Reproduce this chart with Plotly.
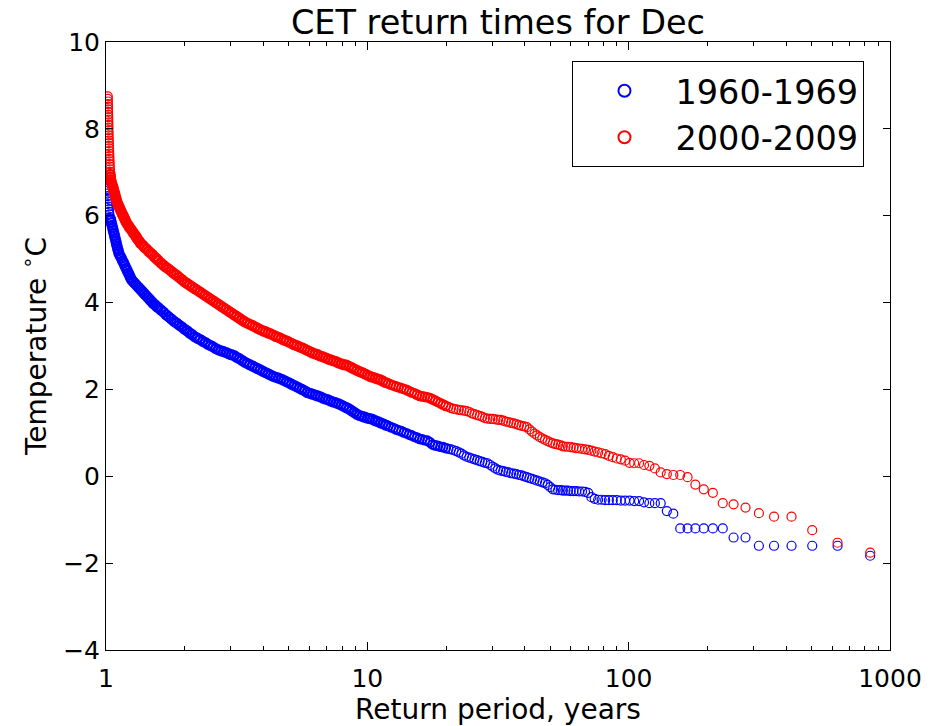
import plotly.graph_objects as go

# ---------------- data ----------------
# steep part close to a return period of 1 year
rp_steep_1960 = [1.012, 1.013, 1.014, 1.015, 1.016, 1.018, 1.020, 1.022, 1.025, 1.028, 1.031, 1.035, 1.038, 1.042,
                 1.048, 1.054, 1.060, 1.066, 1.072, 1.078, 1.084, 1.090, 1.096, 1.102, 1.108, 1.115, 1.121,
                 1.133, 1.145, 1.157, 1.169, 1.181, 1.193, 1.205, 1.217, 1.229, 1.241, 1.254,
                 1.274, 1.295, 1.315, 1.336, 1.358, 1.380, 1.402, 1.424, 1.447, 1.470, 1.494, 1.517,
                 1.540, 1.563]
temp_steep_1960 = [6.62, 6.57, 6.51, 6.45, 6.39, 6.33, 6.27, 6.21, 6.15, 6.09, 6.03, 5.97, 5.93, 5.90,
                   5.84, 5.78, 5.72, 5.66, 5.60, 5.54, 5.48, 5.42, 5.36, 5.30, 5.24, 5.19, 5.13,
                   5.07, 5.02, 4.96, 4.91, 4.85, 4.79, 4.74, 4.68, 4.63, 4.57, 4.52,
                   4.475, 4.43, 4.385, 4.34, 4.295, 4.25, 4.205, 4.16, 4.115, 4.07, 4.025, 3.98,
                   3.95, 3.91]

rp_steep_2000 = [1.016, 1.016, 1.017, 1.017, 1.018, 1.018, 1.019, 1.019, 1.020, 1.020,
                 1.021, 1.021, 1.022, 1.022, 1.023, 1.023, 1.024, 1.025, 1.025, 1.026,
                 1.027, 1.028, 1.029, 1.030, 1.031, 1.032, 1.033, 1.034, 1.035, 1.036,
                 1.038, 1.040, 1.042,
                 1.048, 1.054, 1.061, 1.067, 1.073, 1.080, 1.086, 1.092, 1.099, 1.105,
                 1.115, 1.125, 1.136, 1.146, 1.157, 1.168, 1.178, 1.189, 1.200,
                 1.215, 1.230, 1.246, 1.261, 1.277, 1.293, 1.309, 1.325, 1.341, 1.358,
                 1.382, 1.406, 1.431, 1.455, 1.481, 1.507, 1.533, 1.560]
temp_steep_2000 = [8.75, 8.69, 8.63, 8.57, 8.51, 8.45, 8.39, 8.33, 8.27, 8.21,
                   8.15, 8.09, 8.03, 7.97, 7.91, 7.85, 7.79, 7.73, 7.67, 7.61,
                   7.55, 7.49, 7.43, 7.37, 7.31, 7.25, 7.19, 7.13, 7.07, 7.01,
                   6.95, 6.89, 6.83,
                   6.78, 6.72, 6.67, 6.62, 6.56, 6.51, 6.45, 6.40, 6.34, 6.29,
                   6.24, 6.19, 6.13, 6.08, 6.03, 5.98, 5.93, 5.88, 5.83,
                   5.78, 5.73, 5.69, 5.64, 5.59, 5.55, 5.50, 5.45, 5.41, 5.36,
                   5.32, 5.27, 5.23, 5.18, 5.14, 5.10, 5.05, 5.01]

# dense middle part (return periods shared by both decades)
rp_mid = [1.585, 1.622, 1.660, 1.698, 1.738, 1.778, 1.820, 1.862, 1.905, 1.950,
          1.995, 2.042, 2.089, 2.138, 2.188, 2.239, 2.291, 2.344, 2.399, 2.455,
          2.512, 2.570, 2.630, 2.692, 2.754, 2.818, 2.884, 2.951, 3.020, 3.090,
          3.162, 3.236, 3.311, 3.388, 3.467, 3.548, 3.631, 3.715, 3.802, 3.890,
          3.981, 4.074, 4.169, 4.266, 4.365, 4.467, 4.571, 4.677, 4.786, 4.898,
          5.012, 5.129, 5.248, 5.370, 5.495, 5.623, 5.754, 5.888, 6.026, 6.166,
          6.310, 6.457, 6.607, 6.761, 6.918, 7.079, 7.244, 7.413, 7.586, 7.762,
          7.943, 8.128, 8.318, 8.511, 8.710, 8.913, 9.120, 9.333, 9.550, 9.772,
          10.00, 10.23, 10.47, 10.72, 10.96, 11.22, 11.48, 11.75, 12.02, 12.30,
          12.59, 12.88, 13.18, 13.49, 13.80, 14.13, 14.45, 14.79, 15.14, 15.49,
          15.85, 16.22, 16.60, 16.98, 17.38, 17.78, 18.20, 18.62, 19.05, 19.50,
          19.95, 20.42, 20.89, 21.38, 21.88, 22.39, 22.91, 23.44, 23.99, 24.55,
          25.12, 25.70, 26.30, 26.92, 27.54, 28.18, 28.84, 29.51, 30.20, 30.90,
          31.62, 32.36, 33.11, 33.88, 34.67, 35.48, 36.31, 37.15, 38.02, 38.90,
          39.81, 40.74, 41.69, 42.66, 43.65, 44.67, 45.71, 46.77, 47.86, 48.98,
          50.12, 51.29, 52.48, 53.70, 54.95]
temp_mid_1960 = [3.88, 3.83, 3.78, 3.72, 3.67, 3.62, 3.57, 3.53, 3.48, 3.44,
                 3.39, 3.35, 3.30, 3.26, 3.21, 3.18, 3.15, 3.11, 3.08, 3.04,
                 3.01, 2.98, 2.94, 2.91, 2.89, 2.87, 2.85, 2.82, 2.80, 2.78,
                 2.74, 2.71, 2.67, 2.63, 2.60, 2.57, 2.54, 2.51, 2.48, 2.45,
                 2.42, 2.39, 2.36, 2.33, 2.30, 2.28, 2.26, 2.24, 2.21, 2.18,
                 2.15, 2.12, 2.09, 2.06, 2.03, 2.00, 1.97, 1.93, 1.91, 1.89,
                 1.87, 1.85, 1.83, 1.80, 1.78, 1.76, 1.73, 1.71, 1.69, 1.67,
                 1.64, 1.61, 1.58, 1.55, 1.51, 1.47, 1.43, 1.40, 1.38, 1.36,
                 1.34, 1.33, 1.31, 1.28, 1.26, 1.23, 1.21, 1.18, 1.16, 1.13,
                 1.11, 1.08, 1.06, 1.04, 1.01, 0.99, 0.96, 0.94, 0.91, 0.89,
                 0.86, 0.85, 0.83, 0.82, 0.78, 0.73, 0.71, 0.70, 0.68, 0.67,
                 0.65, 0.63, 0.62, 0.60, 0.58, 0.55, 0.52, 0.48, 0.45, 0.43,
                 0.41, 0.39, 0.37, 0.35, 0.33, 0.31, 0.30, 0.26, 0.22, 0.18,
                 0.15, 0.13, 0.12, 0.10, 0.09, 0.07, 0.06, 0.05, 0.03, 0.02,
                 0.00, -0.02, -0.04, -0.06, -0.08, -0.10, -0.12, -0.14, -0.16, -0.20,
                 -0.25, -0.30, -0.31, -0.32, -0.32]
temp_mid_2000 = [4.97, 4.91, 4.86, 4.81, 4.77, 4.72, 4.67, 4.63, 4.58, 4.53,
                 4.48, 4.44, 4.40, 4.36, 4.32, 4.28, 4.24, 4.20, 4.16, 4.12,
                 4.08, 4.04, 4.00, 3.96, 3.92, 3.88, 3.84, 3.80, 3.76, 3.72,
                 3.68, 3.64, 3.60, 3.56, 3.53, 3.50, 3.47, 3.44, 3.41, 3.38,
                 3.35, 3.33, 3.30, 3.28, 3.25, 3.22, 3.20, 3.17, 3.14, 3.12,
                 3.09, 3.06, 3.03, 3.01, 2.98, 2.96, 2.93, 2.90, 2.87, 2.84,
                 2.82, 2.80, 2.77, 2.75, 2.73, 2.70, 2.68, 2.66, 2.64, 2.61,
                 2.59, 2.57, 2.56, 2.53, 2.50, 2.47, 2.44, 2.41, 2.39, 2.36,
                 2.33, 2.30, 2.28, 2.26, 2.24, 2.22, 2.19, 2.16, 2.14, 2.11,
                 2.09, 2.07, 2.05, 2.03, 2.01, 1.99, 1.96, 1.93, 1.91, 1.88,
                 1.85, 1.84, 1.83, 1.82, 1.80, 1.77, 1.74, 1.71, 1.68, 1.65,
                 1.62, 1.60, 1.57, 1.55, 1.54, 1.53, 1.52, 1.51, 1.50, 1.48,
                 1.45, 1.43, 1.41, 1.39, 1.37, 1.34, 1.33, 1.32, 1.32, 1.31,
                 1.30, 1.30, 1.28, 1.26, 1.25, 1.23, 1.22, 1.20, 1.18, 1.16,
                 1.15, 1.13, 1.08, 1.03, 0.98, 0.94, 0.90, 0.87, 0.84, 0.81,
                 0.78, 0.76, 0.74, 0.73, 0.71]

# sparse tail: individually visible points
rp_tail = [840, 630, 504, 420, 360, 315, 280, 252, 229.1, 210,
           193.8, 180, 168, 157.5, 148.2, 140, 132.6, 126, 120, 114.5,
           109.6, 105, 100.8, 96.9, 93.3, 90, 86.9, 84, 81.3, 78.8,
           76.4, 74.1, 72, 70, 68.1, 66.3, 64.6, 63, 61.5, 60,
           58.6, 57.3, 56]
temp_tail_1960 = [-1.83, -1.60, -1.60, -1.60, -1.60, -1.60, -1.41, -1.41, -1.20, -1.20,
                  -1.20, -1.20, -1.20, -1.20, -0.86, -0.80, -0.62, -0.62, -0.62, -0.60,
                  -0.57, -0.57, -0.56, -0.56, -0.56, -0.55, -0.55, -0.55, -0.55, -0.54,
                  -0.54, -0.52, -0.48, -0.38, -0.36, -0.35, -0.35, -0.34, -0.34, -0.34,
                  -0.33, -0.33, -0.33]
temp_tail_2000 = [-1.76, -1.53, -1.24, -0.93, -0.93, -0.85, -0.72, -0.645, -0.62, -0.38,
                  -0.30, -0.19, -0.02, 0.03, 0.03, 0.05, 0.09, 0.18, 0.24, 0.26,
                  0.30, 0.30, 0.31, 0.36, 0.39, 0.41, 0.44, 0.47, 0.51, 0.53,
                  0.55, 0.57, 0.59, 0.61, 0.62, 0.63, 0.64, 0.65, 0.66, 0.67,
                  0.68, 0.68, 0.69]

series_names = ["1960-1969", "2000-2009"]
series_colors = ["rgb(0,0,255)", "rgb(255,0,0)"]

x_tickvals = [1, 10, 100, 1000]
x_ticktext = ["1", "10", "100", "1000"]
y_tickvals = [-4, -2, 0, 2, 4, 6, 8, 10]

# ---------------- figure ----------------
FONT = "DejaVu Sans"
fig = go.Figure()


def edge_widths(xs):
    # thousands of overlapping circles make the crowded part look solid
    out = []
    for x in xs:
        if x < 1.037:
            out.append(1.2)
        elif x < 12:
            out.append(2.2)
        elif x < 20:
            out.append(1.7)
        else:
            out.append(1.2)
    return out


series = [
    (rp_steep_1960 + rp_mid + rp_tail, temp_steep_1960 + temp_mid_1960 + temp_tail_1960),
    (rp_steep_2000 + rp_mid + rp_tail, temp_steep_2000 + temp_mid_2000 + temp_tail_2000),
]
for (xs, ys), name, col in zip(series, series_names, series_colors):
    fig.add_trace(go.Scatter(
        x=xs, y=ys, mode="markers", name=name,
        marker=dict(symbol="circle-open", size=9, color=col,
                    line=dict(width=edge_widths(xs), color=col)),
    ))

fig.update_layout(
    width=935, height=726,
    paper_bgcolor="white", plot_bgcolor="white",
    margin=dict(l=106, r=45, t=42, b=76, autoexpand=False),
    font=dict(family=FONT, color="black", size=25),
    title=dict(text="CET return times for Dec", x=0.5, xref="paper", xanchor="center",
               y=1 - 22 / 726, yref="container", yanchor="middle",
               font=dict(family=FONT, size=33.5, color="black")),
    showlegend=True,
    legend=dict(x=0.595, y=0.968, xanchor="left", yanchor="top",
                bgcolor="white", bordercolor="black", borderwidth=1,
                font=dict(family=FONT, size=33.5, color="black"),
                itemwidth=92, itemsizing="constant"),
)

fig.update_xaxes(
    type="log", range=[0, 3],
    tickvals=x_tickvals, ticktext=x_ticktext,
    ticks="inside", ticklen=8, tickwidth=1, tickcolor="black",
    minor=dict(ticks="inside", ticklen=4, tickwidth=1, tickcolor="black", dtick="D1", showgrid=False),
    showline=True, linecolor="black", linewidth=1, mirror="ticks",
    showgrid=False, zeroline=False, ticklabelstandoff=6,
    tickfont=dict(family=FONT, size=25, color="black"),
    title=dict(text="Return period, years", font=dict(family=FONT, size=28, color="black"), standoff=7),
)
fig.update_yaxes(
    range=[-4, 10], tickvals=y_tickvals,
    ticks="inside", ticklen=7, tickwidth=1, tickcolor="black",
    showline=True, linecolor="black", linewidth=1, mirror="ticks",
    showgrid=False, zeroline=False,
    tickfont=dict(family=FONT, size=25, color="black"),
    title=dict(text="Temperature <sup>∘</sup>C", font=dict(family=FONT, size=28, color="black"), standoff=8),
)

fig.write_html("out.html", config={"displayModeBar": False},
               post_script="document.body.style.margin='0px';")
